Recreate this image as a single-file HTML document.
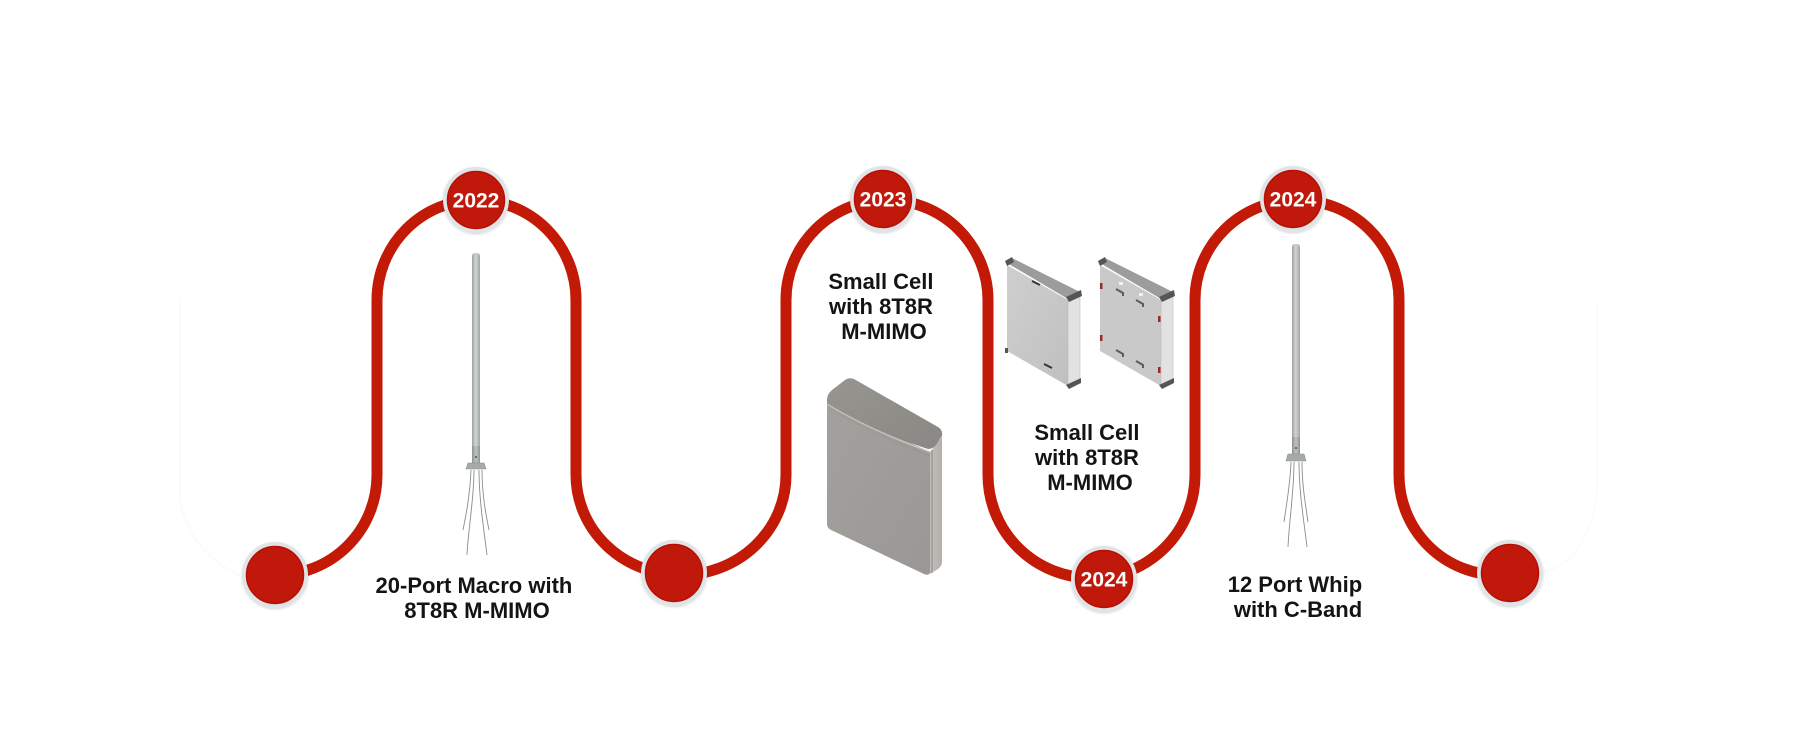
<!DOCTYPE html>
<html>
<head>
<meta charset="utf-8">
<style>
  html,body{margin:0;padding:0;background:#ffffff;}
  body{width:1800px;height:743px;overflow:hidden;}
  svg{display:block;}
  .lbl{font-family:"Liberation Sans",Arial,sans-serif;font-weight:bold;font-size:22px;fill:#141414;}
  .yr{font-family:"Liberation Sans",Arial,sans-serif;font-weight:bold;font-size:21px;fill:#ffffff;}
</style>
</head>
<body>
<svg width="1800" height="743" viewBox="0 0 1800 743" xmlns="http://www.w3.org/2000/svg">
  <defs>
    <linearGradient id="pole" x1="0" x2="1" y1="0" y2="0">
      <stop offset="0" stop-color="#9da1a1"/>
      <stop offset="0.45" stop-color="#d2d5d5"/>
      <stop offset="1" stop-color="#a3a7a7"/>
    </linearGradient>
    <linearGradient id="poleLow" x1="0" x2="1" y1="0" y2="0">
      <stop offset="0" stop-color="#8d9191"/>
      <stop offset="0.5" stop-color="#bfc2c2"/>
      <stop offset="1" stop-color="#8f9393"/>
    </linearGradient>
    <linearGradient id="boxFront" x1="0" x2="1" y1="0" y2="1">
      <stop offset="0" stop-color="#a3a19d"/>
      <stop offset="1" stop-color="#9a9894"/>
    </linearGradient>
    <linearGradient id="boxTop" x1="0" x2="1" y1="0" y2="1">
      <stop offset="0" stop-color="#97958f"/>
      <stop offset="1" stop-color="#8a8884"/>
    </linearGradient>
    <linearGradient id="boxSide" x1="0" x2="1" y1="0" y2="0">
      <stop offset="0" stop-color="#c2bfbb"/>
      <stop offset="1" stop-color="#b3b0ac"/>
    </linearGradient>
    <linearGradient id="panFront" x1="0" x2="1" y1="0" y2="1">
      <stop offset="0" stop-color="#cfcfcf"/>
      <stop offset="1" stop-color="#c0c0c0"/>
    </linearGradient>
    <filter id="sh" x="-20%" y="-20%" width="140%" height="140%">
      <feDropShadow dx="0" dy="1" stdDeviation="1.2" flood-color="#000" flood-opacity="0.18"/>
    </filter>
  </defs>

  <!-- faint ghost continuation lines -->
  <path d="M 240 575 A 100 100 0 0 1 180 500 L 180 300" fill="none" stroke="#fbf9f9" stroke-width="1.5"/>
  <path d="M 1540 572 A 60 90 0 0 0 1597 480 L 1597 300" fill="none" stroke="#fafafa" stroke-width="1.5"/>

  <!-- main red timeline path -->
  <path d="M 277 575
           A 100 100 0 0 0 377 475
           L 377 300
           A 99.5 100 0 0 1 576 300
           L 576 475
           A 105 100 0 0 0 786 475
           L 786 300
           A 101 100 0 0 1 988 300
           L 988 475
           A 103.5 103 0 0 0 1195 475
           L 1195 300
           A 102 100 0 0 1 1399 300
           L 1399 475
           A 100 100 0 0 0 1499 575
           L 1510 575"
        fill="none" stroke="#c21a06" stroke-width="11"/>

  <!-- nodes -->
  <g filter="url(#sh)">
    <circle cx="275" cy="575" r="33" fill="#dfe4e6"/>
    <circle cx="674" cy="573" r="33" fill="#dfe4e6"/>
    <circle cx="1104" cy="579" r="33" fill="#dfe4e6"/>
    <circle cx="1510" cy="573" r="33" fill="#dfe4e6"/>
    <circle cx="476" cy="200" r="33" fill="#dfe4e6"/>
    <circle cx="883" cy="199" r="33" fill="#dfe4e6"/>
    <circle cx="1293" cy="199" r="33" fill="#dfe4e6"/>
  </g>
  <g fill="#c0180a" stroke="#b80f05" stroke-width="1.5">
    <circle cx="275" cy="575" r="28.5"/>
    <circle cx="674" cy="573" r="28.5"/>
    <circle cx="1104" cy="579" r="28.5"/>
    <circle cx="1510" cy="573" r="28.5"/>
    <circle cx="476" cy="200" r="28.5"/>
    <circle cx="883" cy="199" r="28.5"/>
    <circle cx="1293" cy="199" r="28.5"/>
  </g>
  <text class="yr" x="476" y="207.5" text-anchor="middle">2022</text>
  <text class="yr" x="883" y="206.5" text-anchor="middle">2023</text>
  <text class="yr" x="1293" y="206.5" text-anchor="middle">2024</text>
  <text class="yr" x="1104" y="586.5" text-anchor="middle">2024</text>

  <!-- antenna 1 -->
  <g>
    <rect x="472" y="253" width="8" height="196" rx="3" fill="url(#pole)"/>
    <rect x="472" y="446" width="8" height="17" fill="url(#poleLow)"/>
    <circle cx="476" cy="457" r="0.9" fill="#333"/>
    <path d="M 468 463 L 484 463 L 486 469 L 466 469 Z" fill="#a6aaaa" stroke="#8a8e8e" stroke-width="0.6"/>
    <g stroke="#8a8d8d" stroke-width="0.9" fill="none">
      <path d="M 471 470 C 470 495 466 515 463 530"/>
      <path d="M 474 470 C 474 500 468 530 467 555"/>
      <path d="M 479 470 C 479 500 484 530 487 555"/>
      <path d="M 482 470 C 482 495 486 515 489 530"/>
    </g>
  </g>

  <!-- antenna 2 -->
  <g>
    <rect x="1292" y="244" width="8" height="196" rx="3" fill="url(#pole)"/>
    <rect x="1292" y="437" width="8" height="17" fill="url(#poleLow)"/>
    <circle cx="1296" cy="448" r="0.9" fill="#333"/>
    <path d="M 1288 454 L 1304 454 L 1306 461 L 1286 461 Z" fill="#a6aaaa" stroke="#8a8e8e" stroke-width="0.6"/>
    <g stroke="#8a8d8d" stroke-width="0.9" fill="none">
      <path d="M 1291 462 C 1290 487 1286 507 1284 522"/>
      <path d="M 1294 462 C 1294 492 1289 522 1288 547"/>
      <path d="M 1299 462 C 1299 492 1304 522 1307 547"/>
      <path d="M 1302 462 C 1302 487 1306 507 1308 522"/>
    </g>
  </g>

  <!-- small cell box (2023) -->
  <g>
    <path d="M 827 404 L 930 452 L 930 573 Q 928 576 924 574 L 831 530 Q 827 528 827 524 Z" fill="url(#boxFront)"/>
    <path d="M 930 452 L 942 437 L 942 562 Q 942 566 938 569 L 930 574 Z" fill="url(#boxSide)"/>
    <line x1="932" y1="450" x2="932" y2="573" stroke="#7e7c78" stroke-width="0.8"/>
    <path d="M 827 400 Q 827 394 832 390 L 845 380 Q 849 377 854 379 L 938 427 Q 943 430 942 436 L 936 445 Q 933 449 928 449 Q 870 430 827 404 Z" fill="url(#boxTop)"/>
    <path d="M 827 404 Q 870 430 930 452" fill="none" stroke="#c6c3bf" stroke-width="1.3"/>
    <path d="M 829 408 Q 872 434 930 456" fill="none" stroke="#8e8c88" stroke-width="0.6" opacity="0.6"/>
  </g>

  <!-- small cell panels (2024) -->
  <g>
    <!-- left panel -->
    <path d="M 1007 265 L 1068 300 L 1068 386 L 1007 351 Z" fill="url(#panFront)"/>
    <path d="M 1068 300 L 1080 293 L 1080 380 L 1068 387 Z" fill="#e2e2e2" stroke="#b5b5b5" stroke-width="0.5"/>
    <path d="M 1007 263 L 1012 258 L 1080 292 L 1068 299 Z" fill="#9c9c9c"/>
    <path d="M 1005 261 L 1012 257 L 1014 262 L 1007 266 Z" fill="#555"/>
    <path d="M 1066 297 L 1081 290 L 1082 296 L 1069 302 Z" fill="#555"/>
    <path d="M 1066 385 L 1081 378 L 1081 383 L 1069 389 Z" fill="#555"/>
    <rect x="1005" y="348" width="3" height="5" fill="#555"/>
    <path d="M 1032 281 L 1040 285" stroke="#333" stroke-width="2"/>
    <path d="M 1044 364 L 1052 368" stroke="#333" stroke-width="2"/>
    <!-- right panel -->
    <path d="M 1100 265 L 1161 300 L 1161 386 L 1100 351 Z" fill="#c9c9c9"/>
    <path d="M 1161 300 L 1173 293 L 1173 380 L 1161 387 Z" fill="#e2e2e2" stroke="#b5b5b5" stroke-width="0.5"/>
    <path d="M 1100 263 L 1105 258 L 1173 292 L 1161 299 Z" fill="#9c9c9c"/>
    <path d="M 1098 261 L 1105 257 L 1107 262 L 1100 266 Z" fill="#555"/>
    <path d="M 1159 297 L 1174 290 L 1175 296 L 1162 302 Z" fill="#555"/>
    <path d="M 1159 385 L 1174 378 L 1174 383 L 1162 389 Z" fill="#555"/>
    <g stroke="#5c5c5c" stroke-width="2" fill="none">
      <path d="M 1116 289 l 7 4 l 0 3"/>
      <path d="M 1136 300 l 7 4 l 0 3"/>
      <path d="M 1116 350 l 7 4 l 0 3"/>
      <path d="M 1136 361 l 7 4 l 0 3"/>
    </g>
    <g fill="#9a2a2a">
      <rect x="1100" y="283" width="2.5" height="6"/>
      <rect x="1100" y="335" width="2.5" height="6"/>
      <rect x="1158" y="316" width="2.5" height="6"/>
      <rect x="1158" y="367" width="2.5" height="6"/>
    </g>
    <rect x="1119" y="282" width="4" height="3" fill="#f2f2f2"/>
    <rect x="1139" y="293" width="4" height="3" fill="#f2f2f2"/>
  </g>

  <!-- labels -->
  <text class="lbl" text-anchor="middle">
    <tspan x="477" y="593">20-Port Macro with</tspan>
    <tspan x="477" y="618">8T8R M-MIMO</tspan>
  </text>
  <text class="lbl" text-anchor="middle">
    <tspan x="884" y="289">Small Cell</tspan>
    <tspan x="884" y="314">with 8T8R</tspan>
    <tspan x="884" y="339">M-MIMO</tspan>
  </text>
  <text class="lbl" text-anchor="middle">
    <tspan x="1090" y="440">Small Cell</tspan>
    <tspan x="1090" y="465">with 8T8R</tspan>
    <tspan x="1090" y="490">M-MIMO</tspan>
  </text>
  <text class="lbl" text-anchor="middle">
    <tspan x="1298" y="592">12 Port Whip</tspan>
    <tspan x="1298" y="617">with C-Band</tspan>
  </text>
</svg>
</body>
</html>
